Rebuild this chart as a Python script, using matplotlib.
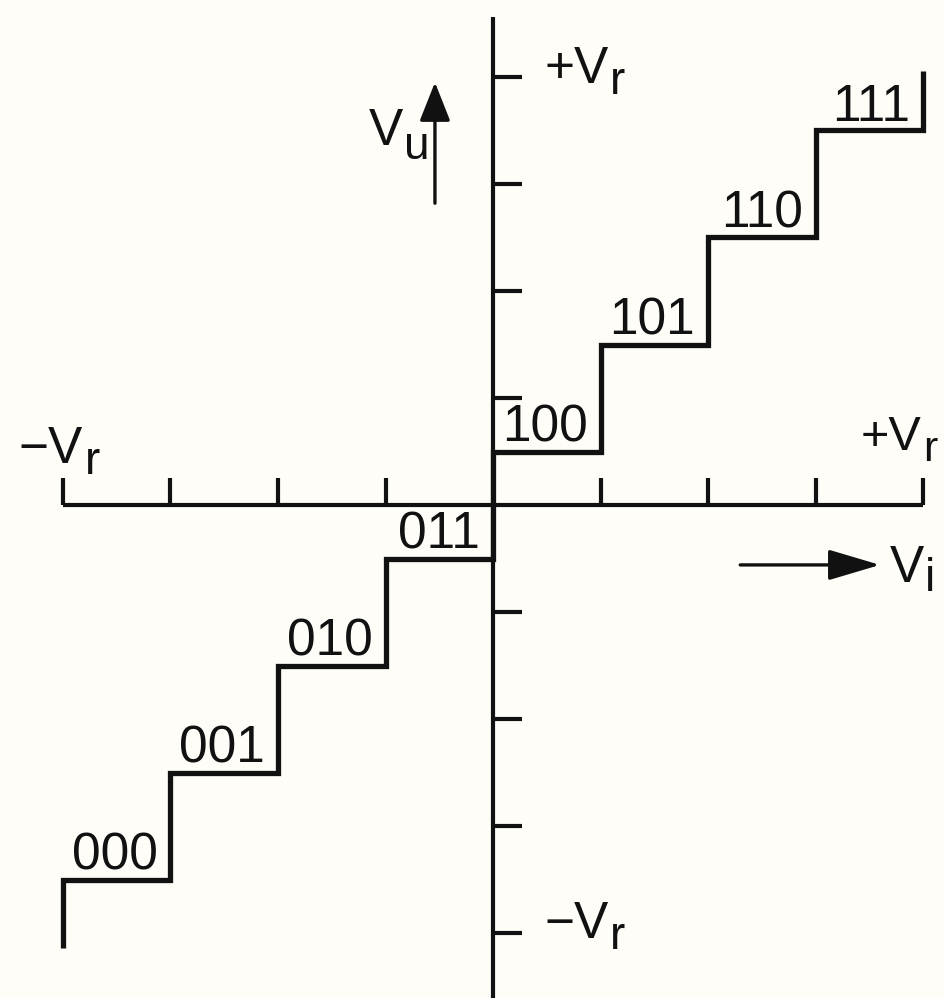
"""
3-bit ADC transfer characteristic (offset-binary staircase).
"""

import numpy as np
import matplotlib
matplotlib.use('Agg')
import matplotlib.pyplot as plt

# --- data (units of Vr/4) ---
codes = ['000', '001', '010', '011', '100', '101', '110', '111']
edges = [-4, -3, -2, -1, 0, 1, 2, 3, 4]          # input decision levels
levels = [-3.5, -2.5, -1.5, -0.5, 0.5, 1.5, 2.5, 3.5]  # output level per code
start_tail = -4.14   # vertical lead-in at -Vr
end_tail = 4.06      # vertical lead-out at +Vr
x_ticks = [-4, -3, -2, -1, 1, 2, 3, 4]
y_ticks = [-4, -3, -2, -1, 1, 2, 3, 4]

plt.rcParams['font.family'] = ['Liberation Sans', 'DejaVu Sans']

BG = '#fffdf8'
INK = '#111111'
FS = 37
SUB_FS = 33

fig = plt.figure(figsize=(9.44, 9.98), dpi=100, facecolor=BG)
ax = fig.add_axes([0, 0, 1, 1])
ax.set_facecolor(BG)
ax.set_xlim(-493 / 107.5, (944 - 493) / 107.5)
ax.set_ylim(-(998 - 505) / 107.0, 505 / 107.0)
ax.axis('off')


def sub_label(x, y, main, sub, drop=8, fs=FS, sub_fs=SUB_FS):
    """Main text with a lowered subscript (as in the drawing)."""
    t = ax.text(x, y, main, ha='left', va='baseline', fontsize=fs, color=INK)
    ax.annotate(sub, xy=(1, 0), xycoords=t, xytext=(1, -drop),
                textcoords='offset points', ha='left', va='bottom',
                fontsize=sub_fs, color=INK)


# axes
ax.plot([edges[0], edges[-1]], [0, 0], color=INK, lw=3.0, solid_capstyle='butt')
ax.plot([0, 0], [-5, 4.56], color=INK, lw=3.0, solid_capstyle='butt')
for xt in x_ticks:
    ax.plot([xt, xt], [0, 0.25], color=INK, lw=3.0, solid_capstyle='butt')
for yt in y_ticks:
    ax.plot([0, 0.27], [yt, yt], color=INK, lw=3.0, solid_capstyle='butt')

# staircase
xs = [edges[0]]
ys = [start_tail]
for i, lv in enumerate(levels):
    xs += [edges[i], edges[i + 1]]
    ys += [lv, lv]
xs.append(edges[-1])
ys.append(end_tail)
ax.plot(xs, ys, color=INK, lw=3.8, solid_joinstyle='miter', solid_capstyle='butt')

# code labels
for i, code in enumerate(codes):
    ax.text(edges[i + 1] - 0.12, levels[i] + 0.09, code, ha='right', va='baseline',
            fontsize=FS, color=INK)

# reference labels
sub_label(0.48, 3.94, '+V', 'r', drop=7)
sub_label(0.48, -4.05, '\u2212V', 'r', drop=7)
sub_label(-4.41, 0.39, '\u2212V', 'r', drop=7)
sub_label(3.42, 0.51, '+V', 'r', drop=7, fs=35, sub_fs=31)
sub_label(-1.16, 3.36, 'V', 'u', drop=9)
sub_label(3.69, -0.72, 'V', 'i', drop=6)

# direction arrows
ax.annotate('', xy=(-0.54, 3.95), xytext=(-0.54, 2.82),
            arrowprops=dict(arrowstyle='-|>,head_length=2.4,head_width=0.95',
                            color=INK, lw=2.4, shrinkA=0, shrinkB=0))
ax.annotate('', xy=(3.60, -0.56), xytext=(2.30, -0.56),
            arrowprops=dict(arrowstyle='-|>,head_length=3.2,head_width=0.95',
                            color=INK, lw=2.4, shrinkA=0, shrinkB=0))

plt.savefig('out.png', dpi=100, facecolor=BG)
plt.close()
